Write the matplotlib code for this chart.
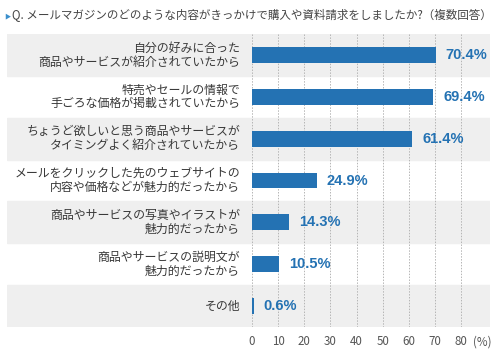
import matplotlib.pyplot as plt

plt.rcParams['font.family'] = ['Noto Sans CJK JP', 'DejaVu Sans']

title = 'Q. メールマガジンのどのような内容がきっかけで購入や資料請求をしましたか?（複数回答）'
labels = [
    '自分の好みに合った\n商品やサービスが紹介されていたから',
    '特売やセールの情報で\n手ごろな価格が掲載されていたから',
    'ちょうど欲しいと思う商品やサービスが\nタイミングよく紹介されていたから',
    'メールをクリックした先のウェブサイトの\n内容や価格などが魅力的だったから',
    '商品やサービスの写真やイラストが\n魅力的だったから',
    '商品やサービスの説明文が\n魅力的だったから',
    'その他',
]
values = [70.4, 69.4, 61.4, 24.9, 14.3, 10.5, 0.6]
ticks = [0, 10, 20, 30, 40, 50, 60, 70, 80]

blue = '#2472b3'

fig = plt.figure(figsize=(5, 3.55), dpi=100)
ax = fig.add_axes([0.014, 0.079, 0.966, 0.825])

# 灰色の横帯
for i in range(len(labels)):
    if i % 2 == 0:
        ax.axhspan(i - 0.5, i + 0.5, color='#efefef', zorder=0)

# 点線のグリッド
ax.vlines(ticks, -0.5, len(labels) - 0.5, colors='#b5b5b5',
          linestyles=(0, (1.5, 1.5)), linewidth=0.7, zorder=1)

ys = range(len(labels))
ax.barh(ys, values, height=0.38, color=blue, zorder=2)

for y, v, lab in zip(ys, values, labels):
    ax.text(v + 3.8, y, f'{v}%', va='center', ha='left', color=blue,
            fontsize=10.5, fontweight='bold', family=['Liberation Sans'])
    ax.text(-4.6, y, lab, va='center', ha='right', color='#383838',
            fontsize=8.6, linespacing=1.1)

ax.set_xlim(-93.8, 91.1)
ax.set_ylim(len(labels) - 0.5, -0.5)
ax.set_xticks(ticks + [88])
ax.set_xticklabels([str(t) for t in ticks] + ['(%)'])
ax.tick_params(axis='x', length=0, pad=6, labelsize=8.3, labelcolor='#555555')
ax.set_yticks([])
for s in ax.spines.values():
    s.set_visible(False)

fig.text(0.008, 0.955, '▶', fontsize=4.5, color='#3b8fcc', va='center', ha='left')
fig.text(0.024, 0.955, title, fontsize=8.3, color='#444444', va='center', ha='left')

fig.savefig('out.png', dpi=100)
